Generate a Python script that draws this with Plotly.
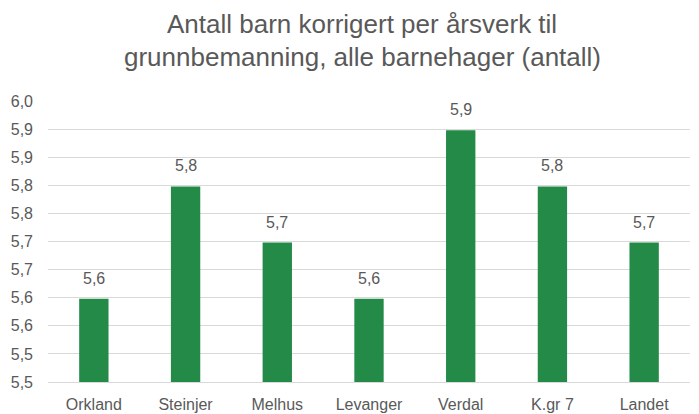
import plotly.graph_objects as go

categories = ["Orkland", "Steinjer", "Melhus", "Levanger", "Verdal", "K.gr 7", "Landet"]
values = [5.648, 5.848, 5.748, 5.648, 5.948, 5.848, 5.748]
tick_vals = [5.50, 5.55, 5.60, 5.65, 5.70, 5.75, 5.80, 5.85, 5.90, 5.95, 6.00]
tick_text = ["5,5", "5,5", "5,6", "5,6", "5,7", "5,7", "5,8", "5,8", "5,9", "5,9", "6,0"]
title_lines = ["Antall barn korrigert per årsverk til",
               "grunnbemanning, alle barnehager (antall)"]

GREY = "#595959"
FONT = "Liberation Sans"
W, H = 699, 414
ML, MR, MT, MB = 48, 9, 101, 32
PW, PH = W - ML - MR, H - MT - MB


def px_to_paper(px, py):
    return (px - ML) / PW, (H - MB - py) / PH


fig = go.Figure(go.Bar(
    x=categories, y=values,
    marker=dict(color="#238A48", line=dict(width=0)),
    hoverinfo="x+y",
))

# value labels above bars
for c, v in zip(categories, values):
    fig.add_annotation(x=c, y=v, xref="x", yref="y", text=f"{v:.1f}".replace(".", ","),
                       showarrow=False, yanchor="bottom", yshift=10,
                       font=dict(size=16, color=GREY, family=FONT))

# title lines
for i, line in enumerate(title_lines):
    tx, ty = px_to_paper(362, 24 + 32.5 * i)
    fig.add_annotation(x=tx, y=ty, xref="paper", yref="paper",
                       text=line, showarrow=False, xanchor="center", yanchor="middle",
                       font=dict(size=26, color=GREY, family=FONT))

fig.update_layout(
    width=W, height=H,
    separators=",.",
    margin=dict(l=ML, r=MR, t=MT, b=MB),
    paper_bgcolor="white", plot_bgcolor="white",
    bargap=0.68,
    font=dict(family=FONT, color=GREY, size=16),
    showlegend=False,
)
fig.update_yaxes(range=[5.5, 6.0], tickvals=tick_vals, ticktext=tick_text,
                 showgrid=True, gridcolor="#D9D9D9", gridwidth=1, zeroline=False,
                 ticks="", ticklabelstandoff=14, automargin=False,
                 tickfont=dict(size=16, color=GREY, family=FONT))
fig.update_xaxes(showline=True, linecolor="#D9D9D9", linewidth=1, ticks="",
                 automargin=False, ticklabelstandoff=8,
                 tickfont=dict(size=16, color=GREY, family=FONT))
fig.write_html("out.html", config={"displayModeBar": False},
               post_script="document.body.style.margin='0';")
